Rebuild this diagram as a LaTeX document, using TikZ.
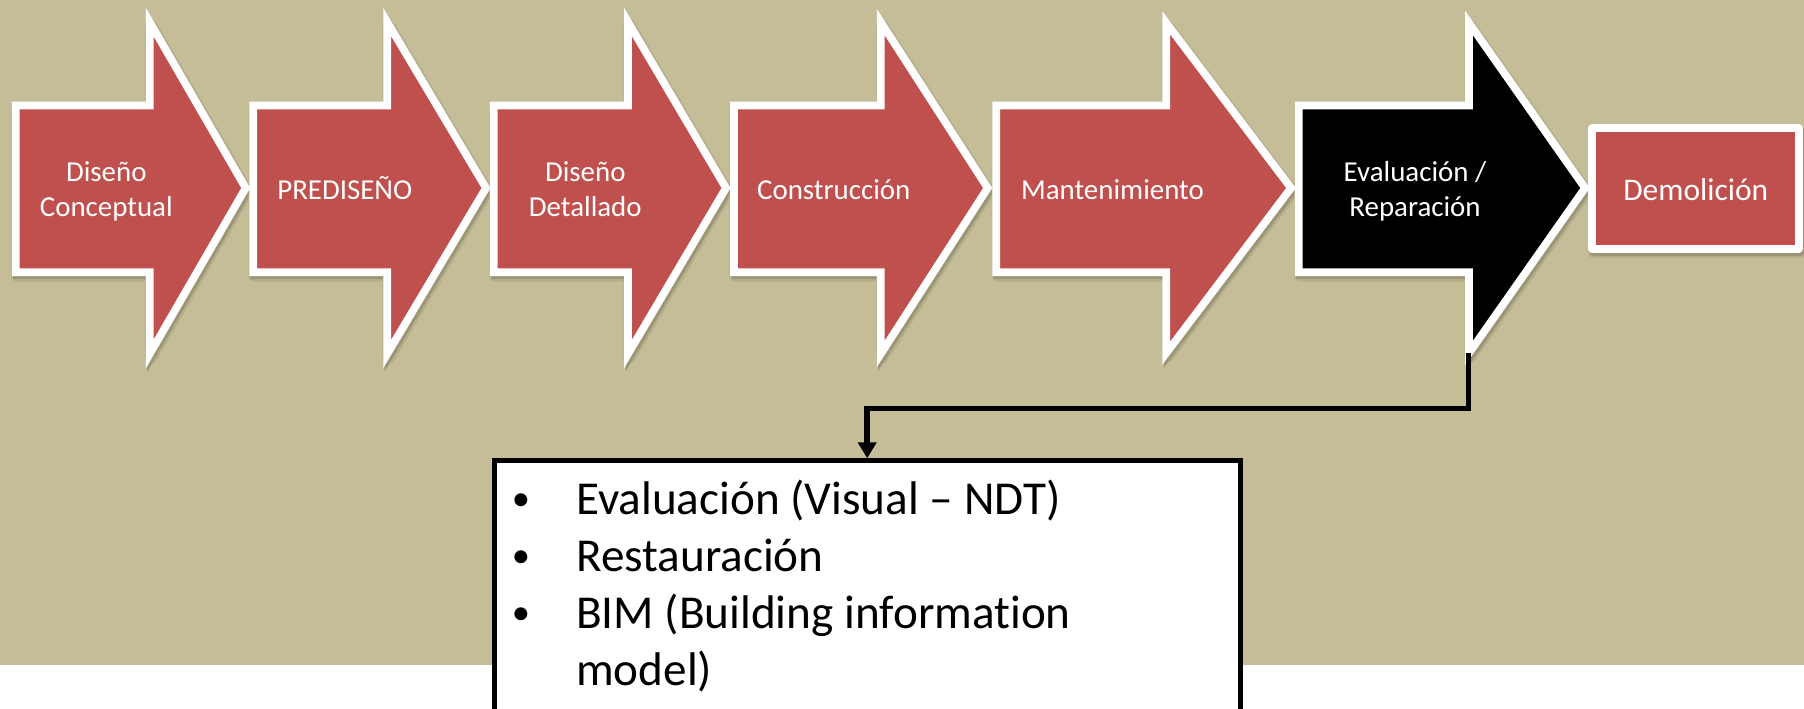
\documentclass[tikz,border=0pt]{standalone}
\usepackage{fontspec}
\setmainfont{Carlito}[Ligatures={TeX,NoCommon}]
\usetikzlibrary{arrows.meta}
\definecolor{olivebg}{HTML}{C4BD97}
\definecolor{brick}{HTML}{C0504D}
\definecolor{shadeA}{HTML}{B5AE8A}
\definecolor{shadeB}{HTML}{9C9676}
\tikzset{
  stage/.style={draw=white, line width=7.7pt, line join=miter, miter limit=10},
  shadowwide/.style={fill=shadeA, draw=shadeA, line width=12pt, line join=round},
  shadownarrow/.style={fill=shadeB, draw=shadeB, line width=8pt, line join=miter},
  lbl/.style={text=white, inner sep=0pt, anchor=base, font=\fontsize{28.9}{35}\selectfont},
  boxtxt/.style={text=black, inner sep=0pt, anchor=base west, font=\fontsize{47.2}{57}\selectfont},
  bul/.style={text=black, inner sep=0pt, anchor=base, font=\fontsize{36.5}{44}\selectfont},
  conn/.style={draw=black, line width=5.5pt, -{Triangle[width=18pt,length=16pt]}},
  infobox/.style={draw=black, fill=white, line width=5pt, minimum width=746pt, minimum height=300pt, inner sep=0pt},
}
% #1 left, #2 head base, #3 tip, #4 head top, #5 head bottom
\newcommand{\shadowarrow}[5]{%
  \filldraw[shadowwide,shift={(1.5,3.5)}] (#1,105.5) -- (#2,105.5) -- (#2,#4) -- (#3,188) -- (#2,#5) -- (#2,272.2) -- (#1,272.2) -- cycle;
  \filldraw[shadownarrow,shift={(1.5,3)}] (#1,105.5) -- (#2,105.5) -- (#2,#4) -- (#3,188) -- (#2,#5) -- (#2,272.2) -- (#1,272.2) -- cycle;}
\newcommand{\stagearrow}[6]{%
  \filldraw[stage,fill=#6] (#1,105.5) -- (#2,105.5) -- (#2,#4) -- (#3,188) -- (#2,#5) -- (#2,272.2) -- (#1,272.2) -- cycle;}
\begin{document}
\begin{tikzpicture}[x=1pt,y=-1pt]
\useasboundingbox (0,0) rectangle (1804,709);
\clip (0,0) rectangle (1804,709);
\fill[white] (0,0) rectangle (1804,709);
\fill[olivebg] (0,0) rectangle (1804,665);
% shadows
\shadowarrow{15.7}{149.7}{245.7}{22}{354}
\shadowarrow{253.2}{387.2}{486}{22}{354}
\shadowarrow{493.8}{628}{726}{22}{354}
\shadowarrow{734}{880.7}{987.7}{22}{354}
\shadowarrow{996.3}{1166.3}{1291}{23}{353}
\shadowarrow{1298.8}{1469}{1585}{23}{353}
\filldraw[shadowwide,line join=round,shift={(1.5,3.5)}] (1592,128.3) rectangle (1799,248.7);
\filldraw[shadownarrow,line join=round,shift={(1.5,3)}] (1592,128.3) rectangle (1799,248.7);
% stages
\stagearrow{15.7}{149.7}{245.7}{22}{354}{brick}
\stagearrow{253.2}{387.2}{486}{22}{354}{brick}
\stagearrow{493.8}{628}{726}{22}{354}{brick}
\stagearrow{734}{880.7}{987.7}{22}{354}{brick}
\stagearrow{996.3}{1166.3}{1291}{23}{353}{brick}
\stagearrow{1298.8}{1469}{1585}{23}{353}{black}
\filldraw[stage,fill=brick,line join=round] (1592,128.3) rectangle (1799,248.7);
% labels
\node[lbl] (l1a) at (106.3,181) {Diseño};
\node[lbl] (l1b) at (106.3,216) {Conceptual};
\node[lbl] (l2) at (344.8,199) {PREDISEÑO};
\node[lbl] (l3a) at (585.3,181) {Diseño};
\node[lbl] (l3b) at (585.3,216) {Detallado};
\node[lbl] (l4) at (833.8,199) {Construcción};
\node[lbl] (l5) at (1112.5,199) {Mantenimiento};
\node[lbl] (l6a) at (1415,181.5) {Evaluación /};
\node[lbl] (l6b) at (1415,216) {Reparación};
\node[lbl,font=\fontsize{31.5}{38}\selectfont] (l7) at (1695.8,200) {Demolición};
% info box
\node[infobox] (box) at (867.2,610.8) {};
\node[bul] (u1) at (521,510) {•};
\node[bul] (u2) at (521,567) {•};
\node[bul] (u3) at (521,624) {•};
\node[boxtxt] (b1) at (576,514) {Evaluación (Visual – NDT)};
\node[boxtxt] (b2) at (576,571) {Restauración};
\node[boxtxt] (b3) at (576,628) {BIM (Building information};
\node[boxtxt] (b4) at (576,685) {model)};
% connector
\coordinate (a6b) at (1468.5,353);
\coordinate (elbow) at (867.2,408.5);
\draw[conn] (a6b) |- (elbow) -- (box.north);
\end{tikzpicture}
\end{document}
